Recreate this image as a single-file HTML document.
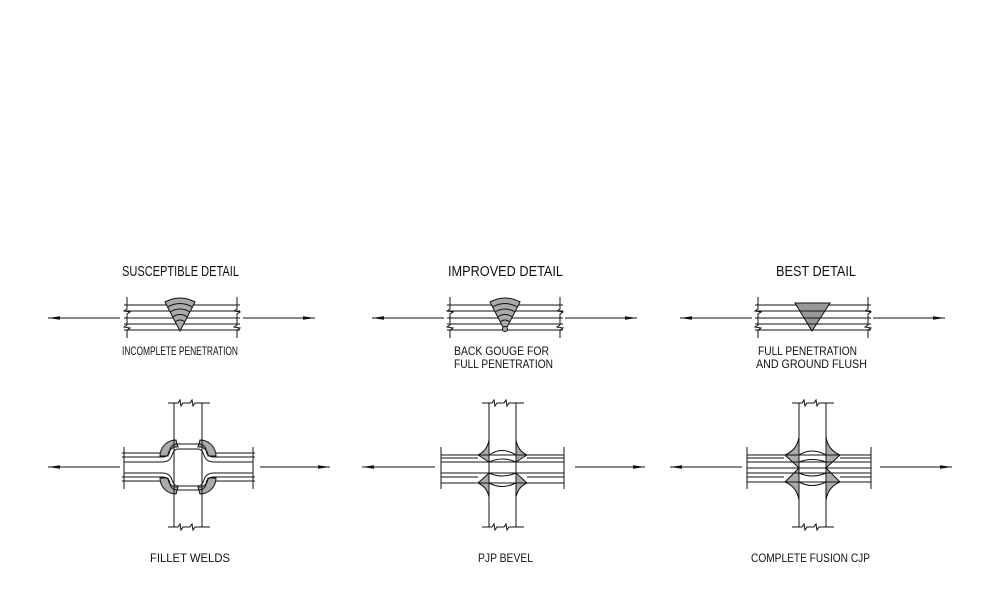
<!DOCTYPE html>
<html><head><style>html,body{margin:0;padding:0;background:#fff}svg{display:block}</style></head><body>
<svg width="1008" height="612" viewBox="0 0 1008 612" xmlns="http://www.w3.org/2000/svg" font-family="Liberation Sans, sans-serif" fill="none" stroke="#111" stroke-width="1">
<defs>
<marker id="ah" markerWidth="12" markerHeight="6" refX="12" refY="3" orient="auto" markerUnits="userSpaceOnUse"><path d="M0,1.2 L12,3 L0,4.8 Z" fill="#111" stroke="none"/></marker>
<g id="plate">
<line x1="-3" y1="305" x2="113" y2="305"/><line x1="-3" y1="311" x2="113" y2="311"/>
<line x1="-3" y1="318" x2="113" y2="318"/><line x1="-3" y1="324" x2="113" y2="324"/>
<line x1="-3" y1="330" x2="113" y2="330"/>
<path d="M0,297 V309 l-3,2 l6,1 l-3,2 V325 l-3,2 l6,1 l-3,2 V338"/>
<path d="M110,297 V309 l-3,2 l6,1 l-3,2 V325 l-3,2 l6,1 l-3,2 V338"/>
</g>
<g id="wedge">
<path d="M-15,302 Q0,294 15,302 L0,331 Z" fill="#aaa"/>
<path d="M-12.5,307 Q0,300 12.5,307"/><path d="M-10,312 Q0,306 10,312"/><path d="M-7.5,317 Q0,312 7.5,317"/><path d="M-5,322 Q0,318 5,322"/>
</g>
</defs>
<g font-size="15" fill="#111" stroke="none" lengthAdjust="spacingAndGlyphs">
<text x="122" y="276" textLength="117" lengthAdjust="spacingAndGlyphs">SUSCEPTIBLE DETAIL</text>
<text x="448" y="276" textLength="115" lengthAdjust="spacingAndGlyphs">IMPROVED DETAIL</text>
<text x="776" y="276" textLength="80" lengthAdjust="spacingAndGlyphs">BEST DETAIL</text>
</g>
<g font-size="12" fill="#111" stroke="none">
<text x="122" y="355" textLength="116" lengthAdjust="spacingAndGlyphs">INCOMPLETE PENETRATION</text>
<text x="454" y="355" textLength="95" lengthAdjust="spacingAndGlyphs">BACK GOUGE FOR</text>
<text x="454" y="368" textLength="99" lengthAdjust="spacingAndGlyphs">FULL PENETRATION</text>
<text x="758" y="355" textLength="99" lengthAdjust="spacingAndGlyphs">FULL PENETRATION</text>
<text x="756" y="368" textLength="111" lengthAdjust="spacingAndGlyphs">AND GROUND FLUSH</text>
<text x="150" y="562" textLength="80" lengthAdjust="spacingAndGlyphs">FILLET WELDS</text>
<text x="478" y="562" textLength="55" lengthAdjust="spacingAndGlyphs">PJP BEVEL</text>
<text x="751" y="562" textLength="119" lengthAdjust="spacingAndGlyphs">COMPLETE FUSION CJP</text>
</g>
<!-- top row -->
<use href="#plate" x="127"/><use href="#wedge" x="180"/>
<use href="#plate" x="450"/><use href="#wedge" x="505"/>
<circle cx="505" cy="329" r="2.5" fill="#aaa"/>
<use href="#plate" x="758"/>
<path d="M795,303 H830 L812,331 Z" fill="#999"/>
<line x1="798" y1="311" x2="826" y2="311"/><line x1="802" y1="318" x2="822" y2="318"/><line x1="806" y1="324" x2="818" y2="324"/>
<g marker-end="url(#ah)">
<line x1="120" y1="318" x2="48" y2="318"/><line x1="243" y1="318" x2="315" y2="318"/>
<line x1="444" y1="318" x2="372" y2="318"/><line x1="565" y1="318" x2="637" y2="318"/>
<line x1="752" y1="318" x2="680" y2="318"/><line x1="873" y1="318" x2="945" y2="318"/>
<line x1="120" y1="467" x2="48" y2="467"/><line x1="260" y1="467" x2="330" y2="467"/>
<line x1="435" y1="467" x2="362" y2="467"/><line x1="575" y1="467" x2="645" y2="467"/>
<line x1="742" y1="467" x2="670" y2="467"/><line x1="880" y1="467" x2="952" y2="467"/>
</g>
<!-- bottom left: fillet -->
<g>
<path d="M160,456 A16,16 0 0 1 176,440 L178,447 A9,9 0 0 0 168,456 Z" fill="#aaa"/>
<path d="M216,456 A16,16 0 0 0 200,440 L198,447 A9,9 0 0 1 208,456 Z" fill="#aaa"/>
<path d="M160,478 A16,16 0 0 0 176,494 L178,487 A9,9 0 0 1 168,478 Z" fill="#aaa"/>
<path d="M216,478 A16,16 0 0 1 200,494 L198,487 A9,9 0 0 0 208,478 Z" fill="#aaa"/>
<line x1="174" y1="403" x2="174" y2="527"/><line x1="202" y1="403" x2="202" y2="527"/>
<path d="M168,403 H178 l2,-3 l1,6 l2,-3 H190 l2,-3 l1,6 l2,-3 H210"/>
<path d="M168,527 H178 l2,-3 l1,6 l2,-3 H190 l2,-3 l1,6 l2,-3 H210"/>
<path d="M124,447 V489 M253,447 V489"/>
<path d="M122,453 H160 M216,453 H255 M122,481 H160 M216,481 H255"/>
<path d="M122,457 H162 Q170,457 170,449 Q172,444 178,444 H198 Q204,444 206,449 Q206,457 214,457 H255"/>
<path d="M124,462 H162 Q170,462 172,455 Q174,449 178,449 H198 Q202,449 204,455 Q206,462 214,462 H253"/>
<path d="M124,473 H162 Q170,473 172,480 Q174,486 178,486 H198 Q202,486 204,480 Q206,473 214,473 H253"/>
<path d="M122,477 H162 Q170,477 170,485 Q172,490 178,490 H198 Q204,490 206,485 Q206,477 214,477 H255"/>
</g>
<!-- bottom middle: PJP -->
<g>
<path d="M478,455 Q487,451 489,440 L489,462 Z" fill="#aaa"/>
<path d="M527,455 Q518,451 516,440 L516,462 Z" fill="#aaa"/>
<path d="M478,483 Q487,487 489,497 L489,473 Z" fill="#aaa"/>
<path d="M527,483 Q518,487 516,497 L516,473 Z" fill="#aaa"/>
<line x1="489" y1="403" x2="489" y2="527"/><line x1="516" y1="403" x2="516" y2="527"/>
<path d="M482,403 H492 l2,-3 l1,6 l2,-3 H504 l2,-3 l1,6 l2,-3 H524"/>
<path d="M482,527 H492 l2,-3 l1,6 l2,-3 H504 l2,-3 l1,6 l2,-3 H524"/>
<path d="M441,447 V489 M564,447 V489"/>
<path d="M441,455 H564 M441,458 H478 M527,458 H564 M441,462 H564 M441,473 H564 M441,477 H478 M527,477 H564 M441,483 H564"/>
<path d="M489,455 Q502,446 516,455 M489,462 Q502,456 516,462 M489,473 Q502,479 516,473 M489,483 Q502,490 516,483"/>
</g>
<!-- bottom right: CJP -->
<g>
<path d="M785,455 Q797,450 799,437 L799,468 Z" fill="#aaa"/>
<path d="M840,455 Q828,450 826,437 L826,468 Z" fill="#aaa"/>
<path d="M785,482 Q797,487 799,500 L799,468 Z" fill="#aaa"/>
<path d="M840,482 Q828,487 826,500 L826,468 Z" fill="#aaa"/>
<line x1="799" y1="403" x2="799" y2="527"/><line x1="826" y1="403" x2="826" y2="527"/>
<path d="M792,403 H802 l2,-3 l1,6 l2,-3 H814 l2,-3 l1,6 l2,-3 H834"/>
<path d="M792,527 H802 l2,-3 l1,6 l2,-3 H814 l2,-3 l1,6 l2,-3 H834"/>
<path d="M747,447 V489 M871,447 V489"/>
<path d="M747,455 H871 M747,458 H784 M840,458 H871 M747,462 H871 M747,468 H871 M747,473 H871 M747,477 H784 M840,477 H871 M747,482 H871"/>
<path d="M799,455 Q812,447 826,455 M799,462 Q812,457 826,462 M799,473 Q812,479 826,473 M799,482 Q812,489 826,482"/>
</g>
</svg>
</body></html>
